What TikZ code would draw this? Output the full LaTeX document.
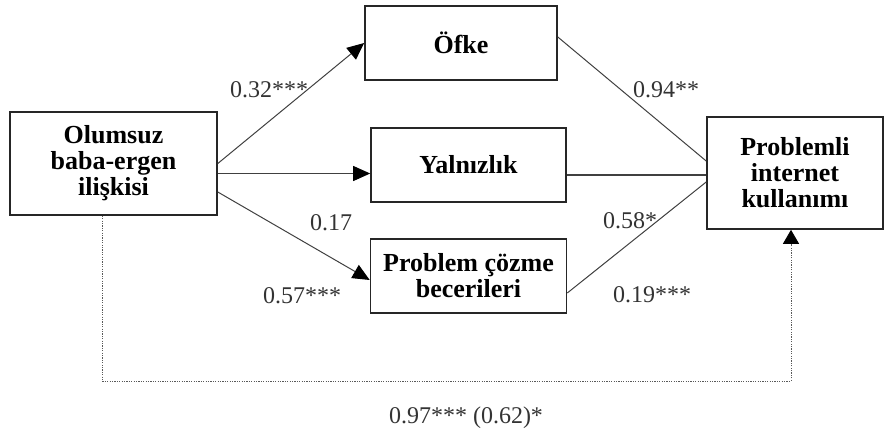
\documentclass[tikz,border=0pt]{standalone}
\usepackage{fontspec}
\setmainfont{Liberation Serif}
\usetikzlibrary{arrows.meta,positioning}

\tikzset{
  kutu/.style={draw=black!85,line width=0.8pt,fill=white,inner sep=0pt,align=center,
               font=\fontsize{13}{13}\selectfont\bfseries},
  katsayi/.style={inner sep=0pt,anchor=base,text=black!80,font=\fontsize{12}{12}\selectfont},
  yol/.style={draw=black!75,line width=0.5pt},
  ok/.style={yol,-{Triangle[length=8.5pt,width=7.5pt,color=black]}},
  dolayli/.style={draw=black!65,line width=0.5pt,dash pattern=on 0.6pt off 0.6pt,
                  -{Triangle[length=7pt,width=8pt,color=black]}}
}

\begin{document}
\begin{tikzpicture}[x=0.5pt,y=-0.5pt]
  \useasboundingbox (0,0) rectangle (885,434);

  % kutular
  \node[kutu,minimum width=103.5pt,minimum height=51.5pt] (olumsuz) at (113.5,163.5) {Olumsuz\\baba-ergen\\ilişkisi};
  \node[kutu,minimum width=96pt,minimum height=37pt] (ofke) at (461,43) {Öfke};
  \node[kutu,minimum width=97.5pt,minimum height=37pt] (yalniz) at (468.5,165) {Yalnızlık};
  \node[kutu,minimum width=98pt,minimum height=37pt] (problem) [below=17.7pt of yalniz] {Problem çözme\\becerileri};
  \node[kutu,minimum width=88pt,minimum height=56pt] (internet) at (795,173) {Problemli\\internet\\kullanımı};

  % yollar
  \coordinate (o2) at ([yshift=-5pt]olumsuz.east);
  \coordinate (o3) at ([yshift=-14.25pt]olumsuz.east);
  \coordinate (i5) at ([yshift=-1pt]internet.west);
  \draw[ok] (olumsuz.east) -- (ofke.west);
  \draw[ok] (o2) -- (o2 -| yalniz.west);
  \draw[ok] (o3) -- ([yshift=-2pt]problem.west);
  \draw[yol] ([yshift=3pt]ofke.east) -- ([yshift=6pt]internet.west);
  \draw[yol,line width=1pt] (i5 -| yalniz.east) -- (i5);
  \draw[yol] ([yshift=-8.5pt]problem.east) -- ([yshift=-4.5pt]internet.west);

  % dolaylı etki
  \coordinate (d1) at ([xshift=-5.75pt]olumsuz.south);
  \coordinate (dk) at (791,381);
  \draw[dolayli] (d1) |- (dk) -- (dk |- internet.south);

  % katsayılar
  \node[katsayi] (k1) at (269,97) {0.32***};
  \node[katsayi] (k2) at (666,97) {0.94**};
  \node[katsayi] (k3) at (331,230) {0.17};
  \node[katsayi] (k4) at (302,303) {0.57***};
  \node[katsayi] (k5) at (630,228) {0.58*};
  \node[katsayi] (k6) at (652,302) {0.19***};
  \node[katsayi] (k7) at (466,423) {0.97*** (0.62)*};
\end{tikzpicture}
\end{document}
